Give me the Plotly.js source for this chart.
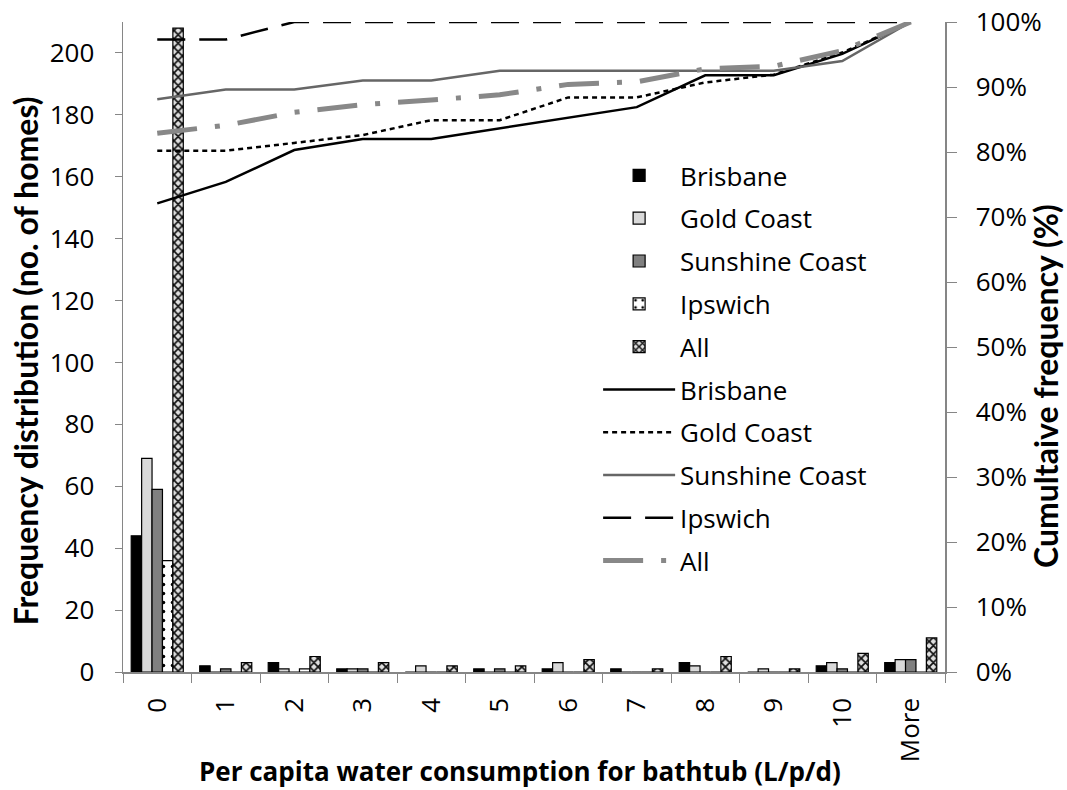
<!DOCTYPE html>
<html>
<head>
<meta charset="utf-8">
<script src="https://cdn.plot.ly/plotly-3.0.1.min.js"></script>
<style>html,body{margin:0;padding:0;background:#fff;}#chart{width:1067px;height:790px;}</style>
</head>
<body>
<div id="chart"></div>
<script>
// Categories: per capita water consumption for bathtub (L/p/d)
const categories = ['0','1','2','3','4','5','6','7','8','9','10','More'];

// Frequency distribution (no. of homes)
const brisbaneFreq      = [44, 2, 3, 1, 0, 1, 1, 1, 3, 0, 2, 3];
const goldCoastFreq     = [69, 0, 1, 1, 2, 0, 3, 0, 2, 1, 3, 4];
const sunshineCoastFreq = [59, 1, 0, 1, 0, 1, 0, 0, 0, 0, 1, 4];
const ipswichFreq       = [36, 0, 1, 0, 0, 0, 0, 0, 0, 0, 0, 0];
const allFreq           = [208, 3, 5, 3, 2, 2, 4, 1, 5, 1, 6, 11];

// Cumulative frequency (%)
const brisbaneCum      = [72.1, 75.4, 80.3, 82.0, 82.0, 83.6, 85.2, 86.9, 91.8, 91.8, 95.1, 100];
const goldCoastCum     = [80.2, 80.2, 81.4, 82.6, 84.9, 84.9, 88.4, 88.4, 90.7, 91.9, 95.3, 100];
const sunshineCoastCum = [88.1, 89.6, 89.6, 91.0, 91.0, 92.5, 92.5, 92.5, 92.5, 92.5, 94.0, 100];
const ipswichCum       = [97.3, 97.3, 100, 100, 100, 100, 100, 100, 100, 100, 100, 100];
const allCum           = [82.9, 84.1, 86.1, 87.3, 88.0, 88.8, 90.4, 90.8, 92.8, 93.2, 95.6, 100];

const leftTicks = [0, 20, 40, 60, 80, 100, 120, 140, 160, 180, 200];
const rightTicks = [0, 10, 20, 30, 40, 50, 60, 70, 80, 90, 100];
const rightTickLabels = ['0%', '10%', '20%', '30%', '40%', '50%', '60%', '70%', '80%', '90%', '100%'];

const xTitle = 'Per capita water consumption for bathtub (L/p/d)';
const yTitle = 'Frequency distribution (no. of homes)';
const y2Title = 'Cumultaive frequency (%)';

const FONT = '"Open Sans", Lato, sans-serif';
const TFONT = 'Lato, "Open Sans", sans-serif';
const AXC = '#868686';

function bar(name, y, color, pattern, g) {
  const t = {
    type: 'bar', name: name, x: categories, y: y, legendgroup: g,
    marker: {color: color, line: {color: '#000', width: 1.2}}
  };
  if (pattern) t.marker.pattern = pattern;
  return t;
}
function line(name, y, color, width, dash, g) {
  return {
    type: 'scatter', mode: 'lines', name: name, x: categories, y: y, yaxis: 'y2',
    legendgroup: g, line: {color: color, width: width, dash: dash}
  };
}

const data = [
  bar('Brisbane', brisbaneFreq, '#000000', null, 'a'),
  bar('Gold Coast', goldCoastFreq, '#d9d9d9', null, 'b'),
  bar('Sunshine Coast', sunshineCoastFreq, '#808080', null, 'c'),
  bar('Ipswich', ipswichFreq, '#ffffff', {shape: '.', fgcolor: '#000', bgcolor: '#fff', size: 9, solidity: 0.12}, 'd'),
  bar('All', allFreq, '#ffffff', {shape: 'x', fgcolor: '#111', bgcolor: '#e0e0e0', size: 6, solidity: 0.5}, 'e'),
  line('Brisbane', brisbaneCum, '#000000', 2.5, 'solid', 'f'),
  line('Gold Coast', goldCoastCum, '#000000', 2.5, '5px,4px', 'g'),
  line('Sunshine Coast', sunshineCoastCum, '#666666', 2.5, 'solid', 'h'),
  line('Ipswich', ipswichCum, '#000000', 2.5, '28px,14px', 'i'),
  line('All', allCum, '#888888', 5, '40px,18px,5px,18px', 'j')
];

const layout = {
  width: 1067, height: 790,
  margin: {l: 123, r: 122, t: 22, b: 118},
  paper_bgcolor: '#fff', plot_bgcolor: '#fff',
  font: {family: FONT, size: 26, color: '#000'},
  barmode: 'group', bargap: 0.24, bargroupgap: 0,
  showlegend: true,
  legend: {
    x: 0.578, y: 0.8, xanchor: 'left', yanchor: 'top',
    bgcolor: 'rgba(0,0,0,0)', font: {family: FONT, size: 26, color: '#000'},
    tracegroupgap: 6, itemwidth: 72, traceorder: 'grouped'
  },
  xaxis: {
    type: 'category', tickson: 'boundaries', ticks: 'outside', ticklen: 9, tickcolor: AXC,
    showline: true, linecolor: AXC, linewidth: 1.5, showgrid: false, zeroline: false,
    tickangle: -90, tickfont: {family: FONT, size: 26}, automargin: false, ticklabelstandoff: 14
  },
  yaxis: {
    range: [0, 210], tickvals: leftTicks, ticks: 'outside', ticklen: 7, tickcolor: AXC,
    showline: true, linecolor: AXC, linewidth: 1.5, showgrid: false, zeroline: false,
    tickfont: {family: FONT, size: 26}, automargin: false, ticklabelstandoff: 15
  },
  yaxis2: {
    range: [0, 100], tickvals: rightTicks, ticktext: rightTickLabels, overlaying: 'y', side: 'right',
    ticks: 'outside', ticklen: 10, tickcolor: AXC,
    showline: true, linecolor: AXC, linewidth: 1.5, showgrid: false, zeroline: false,
    tickfont: {family: FONT, size: 26}, automargin: false, ticklabelstandoff: 14
  },
  annotations: [
    {text: '<b>' + xTitle + '</b>', xref: 'paper', yref: 'paper', x: 0.483, y: -0.152,
     xanchor: 'center', yanchor: 'middle', showarrow: false,
     font: {family: FONT, size: 26, color: '#000'}},
    {text: '<b>' + yTitle + '</b>', xref: 'paper', yref: 'paper', x: -0.1192, y: 0.478,
     xanchor: 'center', yanchor: 'middle', textangle: -90, showarrow: false,
     font: {family: TFONT, size: 32, color: '#000'}},
    {text: '<b>' + y2Title + '</b>', xref: 'paper', yref: 'paper', x: 1.1217, y: 0.44,
     xanchor: 'center', yanchor: 'middle', textangle: -90, showarrow: false,
     font: {family: TFONT, size: 32, color: '#000'}}
  ]
};

Plotly.newPlot('chart', data, layout, {displayModeBar: false, staticPlot: true});
</script>
</body>
</html>
